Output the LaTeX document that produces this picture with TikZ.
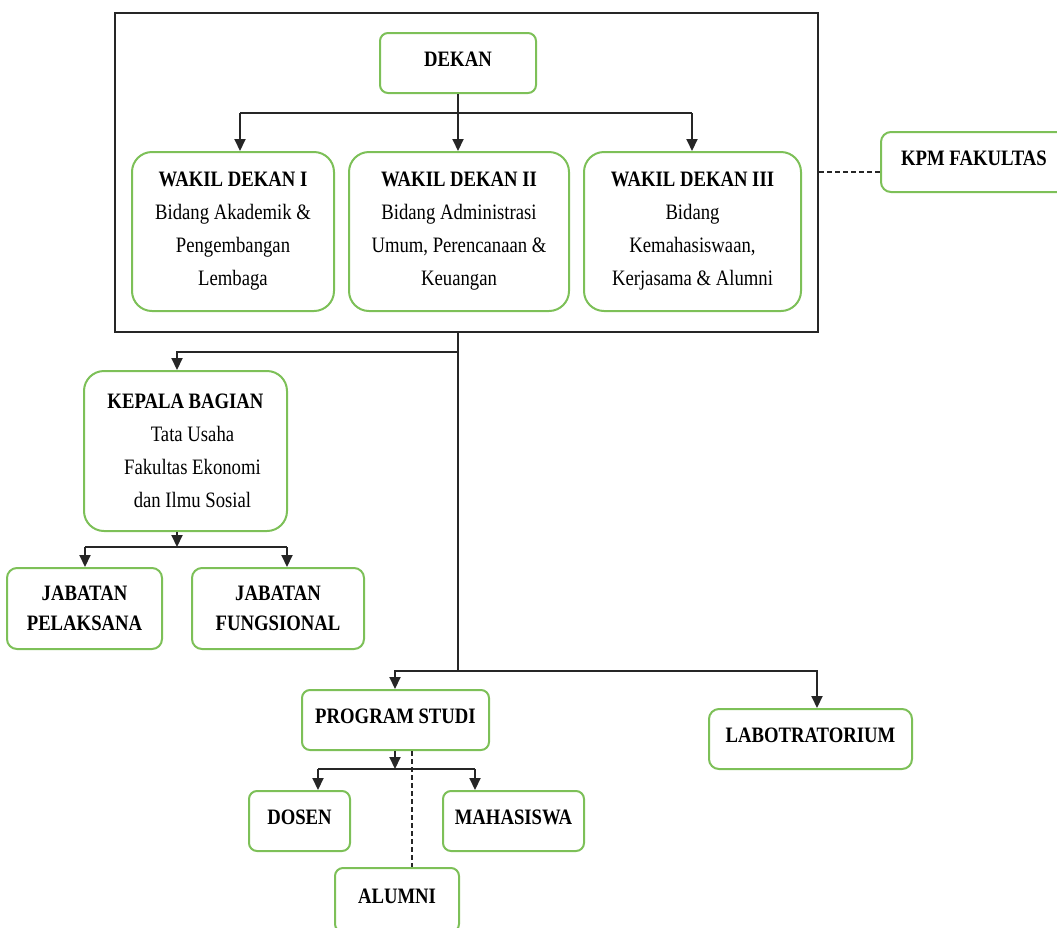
\documentclass[tikz,border=0pt]{standalone}
\usepackage{fontspec}
\setmainfont{Liberation Serif}[FakeStretch=0.85]
\usetikzlibrary{arrows.meta}
\definecolor{boxgreen}{RGB}{125,192,88}
\begin{document}
\begin{tikzpicture}[x=1pt,y=-1pt,
  box/.style={draw=boxgreen, line width=2pt, rectangle, inner sep=0pt, font=\fontsize{22}{33}\selectfont},
  multi/.style={box, align=center},
  one/.style={box, text height=15pt, text depth=9pt},
  conn/.style={draw=black!85, line width=2pt},
  arr/.style={conn, -{Triangle[length=12pt,width=11pt]}},
  dashline/.style={draw=black!85, line width=1.6pt, dash pattern=on 5pt off 3pt}
]
\useasboundingbox (0,0) rectangle (1057,927);
\clip (0,0) rectangle (1057,927);

% outer frame
\node[draw=black!85, line width=2pt, rectangle, inner sep=0pt, minimum width=703pt, minimum height=319pt] (frame) at (466.5,172.5) {};

% boxes
\node[one, rounded corners=8pt, minimum width=156pt, minimum height=60pt] (dekan) at (458,63) {\textbf{DEKAN}};
\node[multi, rounded corners=20pt, minimum width=202pt, minimum height=159pt] (wd1) at (233,231.5)
  {\textbf{WAKIL DEKAN I}\\Bidang Akademik \&\\Pengembangan\\Lembaga};
\node[multi, rounded corners=20pt, minimum width=220pt, minimum height=159pt] (wd2) at (459,231.5)
  {\textbf{WAKIL DEKAN II}\\Bidang Administrasi\\Umum, Perencanaan \&\\Keuangan};
\node[multi, rounded corners=20pt, minimum width=217pt, minimum height=159pt] (wd3) at (692.5,231.5)
  {\textbf{WAKIL DEKAN III}\\Bidang\\Kemahasiswaan,\\Kerjasama \& Alumni};
\node[one, rounded corners=10pt, minimum width=186pt, minimum height=60pt] (kpm) at (974,162) {\textbf{KPM FAKULTAS}};

\node[multi, rounded corners=20pt, minimum width=203pt, minimum height=160pt] (kb) at (185.5,451)
  {\textbf{KEPALA BAGIAN}\\\hspace*{14pt}Tata Usaha\\\hspace*{14pt}Fakultas Ekonomi\\\hspace*{14pt}dan Ilmu Sosial};
\node[multi, rounded corners=10pt, minimum width=155pt, minimum height=81pt, font=\fontsize{22}{30}\selectfont] (jp) at (84.5,608.5)
  {\textbf{JABATAN}\\\textbf{PELAKSANA}};
\node[multi, rounded corners=10pt, minimum width=172pt, minimum height=81pt, font=\fontsize{22}{30}\selectfont] (jf) at (278,608.5)
  {\textbf{JABATAN}\\\textbf{FUNGSIONAL}};

\node[one, rounded corners=8pt, minimum width=187pt, minimum height=60pt] (ps) at (395.5,720) {\textbf{PROGRAM STUDI}};
\node[one, rounded corners=10pt, minimum width=203pt, minimum height=60pt] (lab) at (810.5,739) {\textbf{LABOTRATORIUM}};
\node[one, rounded corners=8pt, minimum width=101pt, minimum height=60pt] (dosen) at (299.5,821) {\textbf{DOSEN}};
\node[one, rounded corners=8pt, minimum width=141pt, minimum height=60pt] (mhs) at (513.5,821) {\textbf{MAHASISWA}};
\node[one, rounded corners=8pt, minimum width=124pt, minimum height=64pt] (alumni) at (397,900) {\textbf{ALUMNI}};

% DEKAN to wakil dekan
\coordinate (bL) at (240,113);
\coordinate (bR) at (692,113);
\draw[arr] (dekan.south) -- (dekan.south |- wd2.north);
\draw[conn] (bL) -- (bR);
\draw[arr] (bL) -- (bL |- wd1.north);
\draw[arr] (bR) -- (bR |- wd3.north);

% KPM dashed
\coordinate (ky) at (0,172);
\draw[dashline] (frame.east |- ky) -- (kpm.west |- ky);

% trunk
\coordinate (t0) at (dekan.south |- frame.south);
\coordinate (kL) at (177,352);
\coordinate (pL) at (395,671);
\coordinate (pR) at (817,671);
\draw[conn] (t0) -- (t0 |- pL);
\draw[arr] (t0 |- kL) -- (kL) -- (kL |- kb.north);
\draw[arr] (t0 |- pL) -- (pL) -- (pL |- ps.north);
\draw[arr] (t0 |- pL) -- (pR) -- (pR |- lab.north);

% kepala bagian to jabatan
\coordinate (kbb) at (177,547);
\coordinate (jL) at (85,547);
\coordinate (jR) at (287,547);
\draw[arr] (kbb |- kb.south) -- (kbb);
\draw[conn] (jL) -- (jR);
\draw[arr] (jL) -- (jL |- jp.north);
\draw[arr] (jR) -- (jR |- jf.north);

% program studi to dosen / mahasiswa
\coordinate (psb) at (395,769);
\coordinate (sL) at (318,769);
\coordinate (sR) at (475,769);
\draw[arr] (psb |- ps.south) -- (psb);
\draw[conn] (sL) -- (sR);
\draw[arr] (sL) -- (sL |- dosen.north);
\draw[arr] (sR) -- (sR |- mhs.north);

% alumni dashed
\coordinate (ax) at (412,0);
\draw[dashline] (ps.south -| ax) -- (alumni.north -| ax);
\end{tikzpicture}
\end{document}
